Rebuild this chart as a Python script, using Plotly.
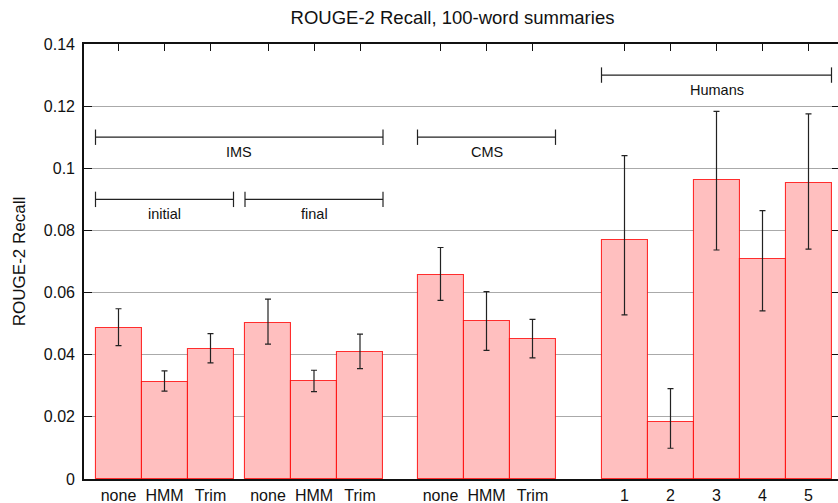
import plotly.graph_objects as go

# ---- data ----
group_names = ["initial", "final", "CMS", "Humans"]
cat_initial = ["none", "HMM", "Trim"]
cat_final = ["none", "HMM", "Trim"]
cat_cms = ["none", "HMM", "Trim"]
cat_humans = ["1", "2", "3", "4", "5"]

val_initial = [0.0487, 0.0312, 0.0420]
hi_initial = [0.0548, 0.0348, 0.0468]
lo_initial = [0.0429, 0.0283, 0.0374]

val_final = [0.0503, 0.0315, 0.0409]
hi_final = [0.0579, 0.0350, 0.0466]
lo_final = [0.0434, 0.0281, 0.0355]

val_cms = [0.0657, 0.0507, 0.0451]
hi_cms = [0.0745, 0.0603, 0.0514]
lo_cms = [0.0575, 0.0414, 0.0390]

val_humans = [0.0768, 0.0185, 0.0961, 0.0708, 0.0953]
hi_humans = [0.1041, 0.0291, 0.1183, 0.0864, 0.1175]
lo_humans = [0.0528, 0.0099, 0.0737, 0.0541, 0.0740]

y_ticks = [0, 0.02, 0.04, 0.06, 0.08, 0.1, 0.12, 0.14]
y_tick_text = ["0", "0.02", "0.04", "0.06", "0.08", "0.1", "0.12", "0.14"]

# bracket labels: (label, first group, last group, level)
bracket_labels = ["IMS", "initial", "final", "CMS", "Humans"]
bracket_from = [0, 0, 1, 2, 3]
bracket_to = [1, 0, 1, 2, 3]
bracket_level = [0.11, 0.09, 0.09, 0.11, 0.13]

# ---- layout of categories along x (bar width = 1 unit) ----
cats = [cat_initial, cat_final, cat_cms, cat_humans]
vals = [val_initial, val_final, val_cms, val_humans]
his = [hi_initial, hi_final, hi_cms, hi_humans]
los = [lo_initial, lo_final, lo_cms, lo_humans]
gaps_before = [0.25, 0.25, 0.75, 1.0]

xs, ys, eplus, eminus, labels = [], [], [], [], []
group_edges = []
pos = 0.0
for g in range(len(cats)):
    pos += gaps_before[g]
    start = pos
    for i, c in enumerate(cats[g]):
        xs.append(pos + 0.5)
        ys.append(vals[g][i])
        eplus.append(his[g][i] - vals[g][i])
        eminus.append(vals[g][i] - los[g][i])
        labels.append(c)
        pos += 1.0
    group_edges.append((start, pos))

W, H = 838, 503
ML, MT, MB = 84, 44, 24
unit_px = 46.0
x_max = (W - ML) / unit_px

fig = go.Figure()
fig.add_trace(go.Bar(
    x=xs, y=ys, width=1.0,
    marker=dict(color="rgb(255,191,191)", line=dict(color="rgba(255,0,0,0.8)", width=1.1)),
    error_y=dict(type="data", symmetric=False, array=eplus, arrayminus=eminus,
                 color="#222222", thickness=1.2, width=3),
    showlegend=False, hoverinfo="skip",
))

# brackets
font_family = "Liberation Sans, Arial, sans-serif"
for k, lab in enumerate(bracket_labels):
    x0 = group_edges[bracket_from[k]][0]
    x1 = group_edges[bracket_to[k]][1]
    yv = bracket_level[k]
    fig.add_trace(go.Scatter(
        x=[x0, x1], y=[yv, yv], mode="lines+markers",
        line=dict(color="#222222", width=1.2),
        marker=dict(symbol="line-ns-open", size=11, line=dict(color="#222222", width=1.2)),
        showlegend=False, hoverinfo="skip", cliponaxis=False,
    ))
    fig.add_annotation(x=(x0 + x1) / 2, y=yv, text=lab, showarrow=False,
                       yanchor="top", yshift=-5, font=dict(size=14.5, color="#111111", family=font_family))

# helper trace for mirrored top / right tick axes
fig.add_trace(go.Scatter(x=[None], y=[None], xaxis="x2", yaxis="y2", showlegend=False, hoverinfo="skip"))

fig.update_layout(
    width=W, height=H,
    margin=dict(l=ML, r=0, t=MT, b=MB, pad=0),
    plot_bgcolor="white", paper_bgcolor="white",
    font=dict(family=font_family, color="#111111"),
    title=dict(text="ROUGE-2 Recall, 100-word summaries", x=452.5 / W, xanchor="center",
               y=1 - 18 / H, yanchor="middle", font=dict(size=18.5, color="#111111")),
    bargap=0,
    xaxis=dict(range=[0, x_max], tickmode="array", tickvals=xs, ticktext=labels,
               ticks="", showgrid=False, zeroline=False, showline=True, linecolor="#111111",
               linewidth=1.5, tickfont=dict(size=16, color="#111111"), automargin=False,
               ticklabelstandoff=1),
    yaxis=dict(range=[0, 0.14], tickmode="array", tickvals=y_ticks, ticktext=y_tick_text,
               ticks="inside", ticklen=8, tickcolor="#111111", tickwidth=1.2,
               showgrid=True, gridcolor="#aaaaaa", gridwidth=1, zeroline=False,
               showline=True, linecolor="#111111", linewidth=1.6,
               tickfont=dict(size=16, color="#111111"), automargin=False,
               ticklabelstandoff=4,
               title=dict(text="ROUGE-2 Recall", font=dict(size=17, color="#111111"), standoff=14)),
    xaxis2=dict(range=[0, x_max], overlaying="x", side="top", tickmode="array", tickvals=xs,
                showticklabels=False, ticks="inside", ticklen=7, tickcolor="#111111", tickwidth=1.2,
                showgrid=False, zeroline=False, showline=True, linecolor="#111111", linewidth=1.5),
    yaxis2=dict(range=[0, 0.14], overlaying="y", side="right", tickmode="array", tickvals=y_ticks,
                showticklabels=False, ticks="inside", ticklen=6, tickcolor="#111111", tickwidth=1.2,
                showgrid=False, zeroline=False, showline=False),
)

fig.write_html("out.html", config={"displayModeBar": False},
               post_script="document.body.style.margin='0px';document.body.style.overflow='hidden';")
